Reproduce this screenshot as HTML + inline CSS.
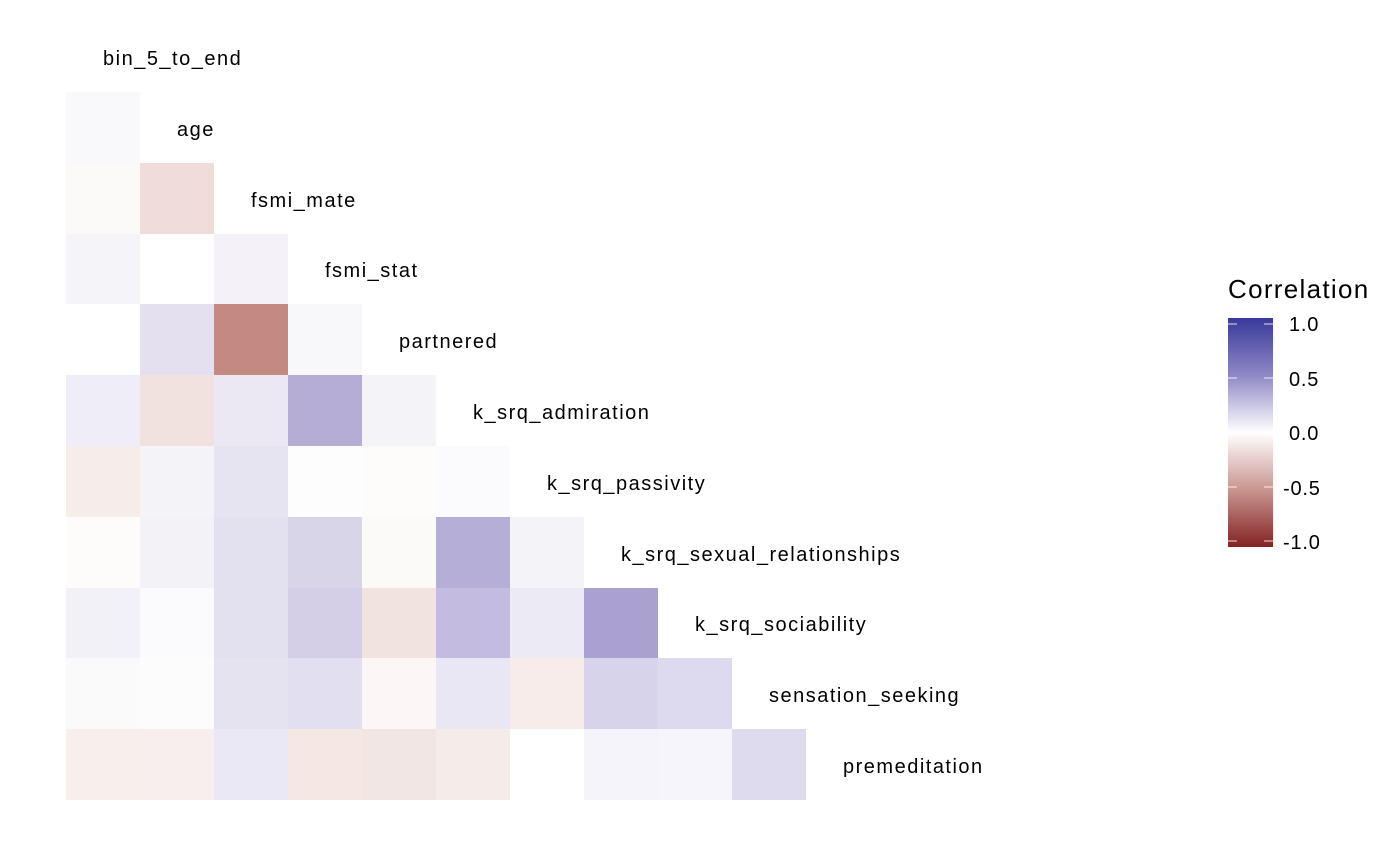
<!DOCTYPE html>
<html><head><style>
body{margin:0;width:1400px;height:865px;background:#fff;position:relative;overflow:hidden;font-family:"Liberation Sans",sans-serif;}
.c{position:absolute;width:74px;height:71px;}
.l{position:absolute;font-size:20px;color:#000;white-space:nowrap;line-height:20px;letter-spacing:1.5px;}
.t{position:absolute;font-size:20px;color:#000;white-space:nowrap;line-height:20px;letter-spacing:0.8px;}
</style></head><body>
<div id="g"></div>
<div class="l" style="left:1228px;top:276px;font-size:26px;line-height:26px;letter-spacing:1.3px;">Correlation</div>
<div style="position:absolute;left:1228px;top:318px;width:45px;height:229px;background:linear-gradient(to bottom,#38399a,#8f88c6 25%,#ffffff 50%,#c99590 75%,#842223);"></div>
<svg style="position:absolute;left:1228px;top:318px" width="45" height="229">
<g stroke="#fff" stroke-opacity="0.7" stroke-width="1.2">
<line x1="0" y1="6" x2="9" y2="6"/><line x1="36" y1="6" x2="45" y2="6"/>
<line x1="0" y1="60" x2="9" y2="60"/><line x1="36" y1="60" x2="45" y2="60"/>
<line x1="0" y1="115" x2="9" y2="115"/><line x1="36" y1="115" x2="45" y2="115"/>
<line x1="0" y1="169" x2="9" y2="169"/><line x1="36" y1="169" x2="45" y2="169"/>
<line x1="0" y1="223" x2="9" y2="223"/><line x1="36" y1="223" x2="45" y2="223"/>
</g></svg>
<div class="t" style="left:1289px;top:315px;">1.0</div>
<div class="t" style="left:1289px;top:370px;">0.5</div>
<div class="t" style="left:1289px;top:424px;">0.0</div>
<div class="t" style="left:1283px;top:479px;">-0.5</div>
<div class="t" style="left:1283px;top:533px;">-1.0</div>
<script>
var labels=["bin_5_to_end","age","fsmi_mate","fsmi_stat","partnered","k_srq_admiration","k_srq_passivity","k_srq_sexual_relationships","k_srq_sociability","sensation_seeking","premeditation"];
var rows=[
["#f9f9fc"],
["#fcfaf8","#f0dcdb"],
["#f5f4f9","#ffffff","#f4f2f8"],
["#ffffff","#e4e0ef","#c48a82","#f8f8fb"],
["#efedf7","#f1e2e0","#ebe8f4","#b5add6","#f4f3f8"],
["#f6ecea","#f4f4f8","#e6e4f1","#fdfdfd","#fdfcfa","#fbfbfd"],
["#fefbfb","#f2f2f7","#e3e0ef","#d9d5e9","#fbfaf8","#b5aed7","#f4f3f8"],
["#f2f1f8","#fbfbfd","#e3e0f0","#d4cfe6","#f1e3e0","#c3bce0","#eceaf5","#aaa1d1"],
["#fafafa","#fcfcfc","#e6e3f1","#e2dff0","#fcf7f6","#e8e7f3","#f8ecea","#d7d3ea","#ddd9ee"],
["#f8efed","#f7efed","#eae8f5","#f4e7e4","#f2e6e4","#f5ebe8","#ffffff","#f5f4fa","#f6f5fb","#dfdbee"]];
var h="";
for(var i=0;i<11;i++){h+='<div class="l" style="left:'+(103+74*i)+'px;top:'+(49+70.8*i)+'px">'+labels[i]+'</div>';}
for(var r=0;r<rows.length;r++){for(var c=0;c<rows[r].length;c++){h+='<div class="c" style="left:'+(66+74*c)+'px;top:'+(92+70.8*r)+'px;background:'+rows[r][c]+'"></div>';}}
document.getElementById("g").innerHTML=h;
</script>
</body></html>
